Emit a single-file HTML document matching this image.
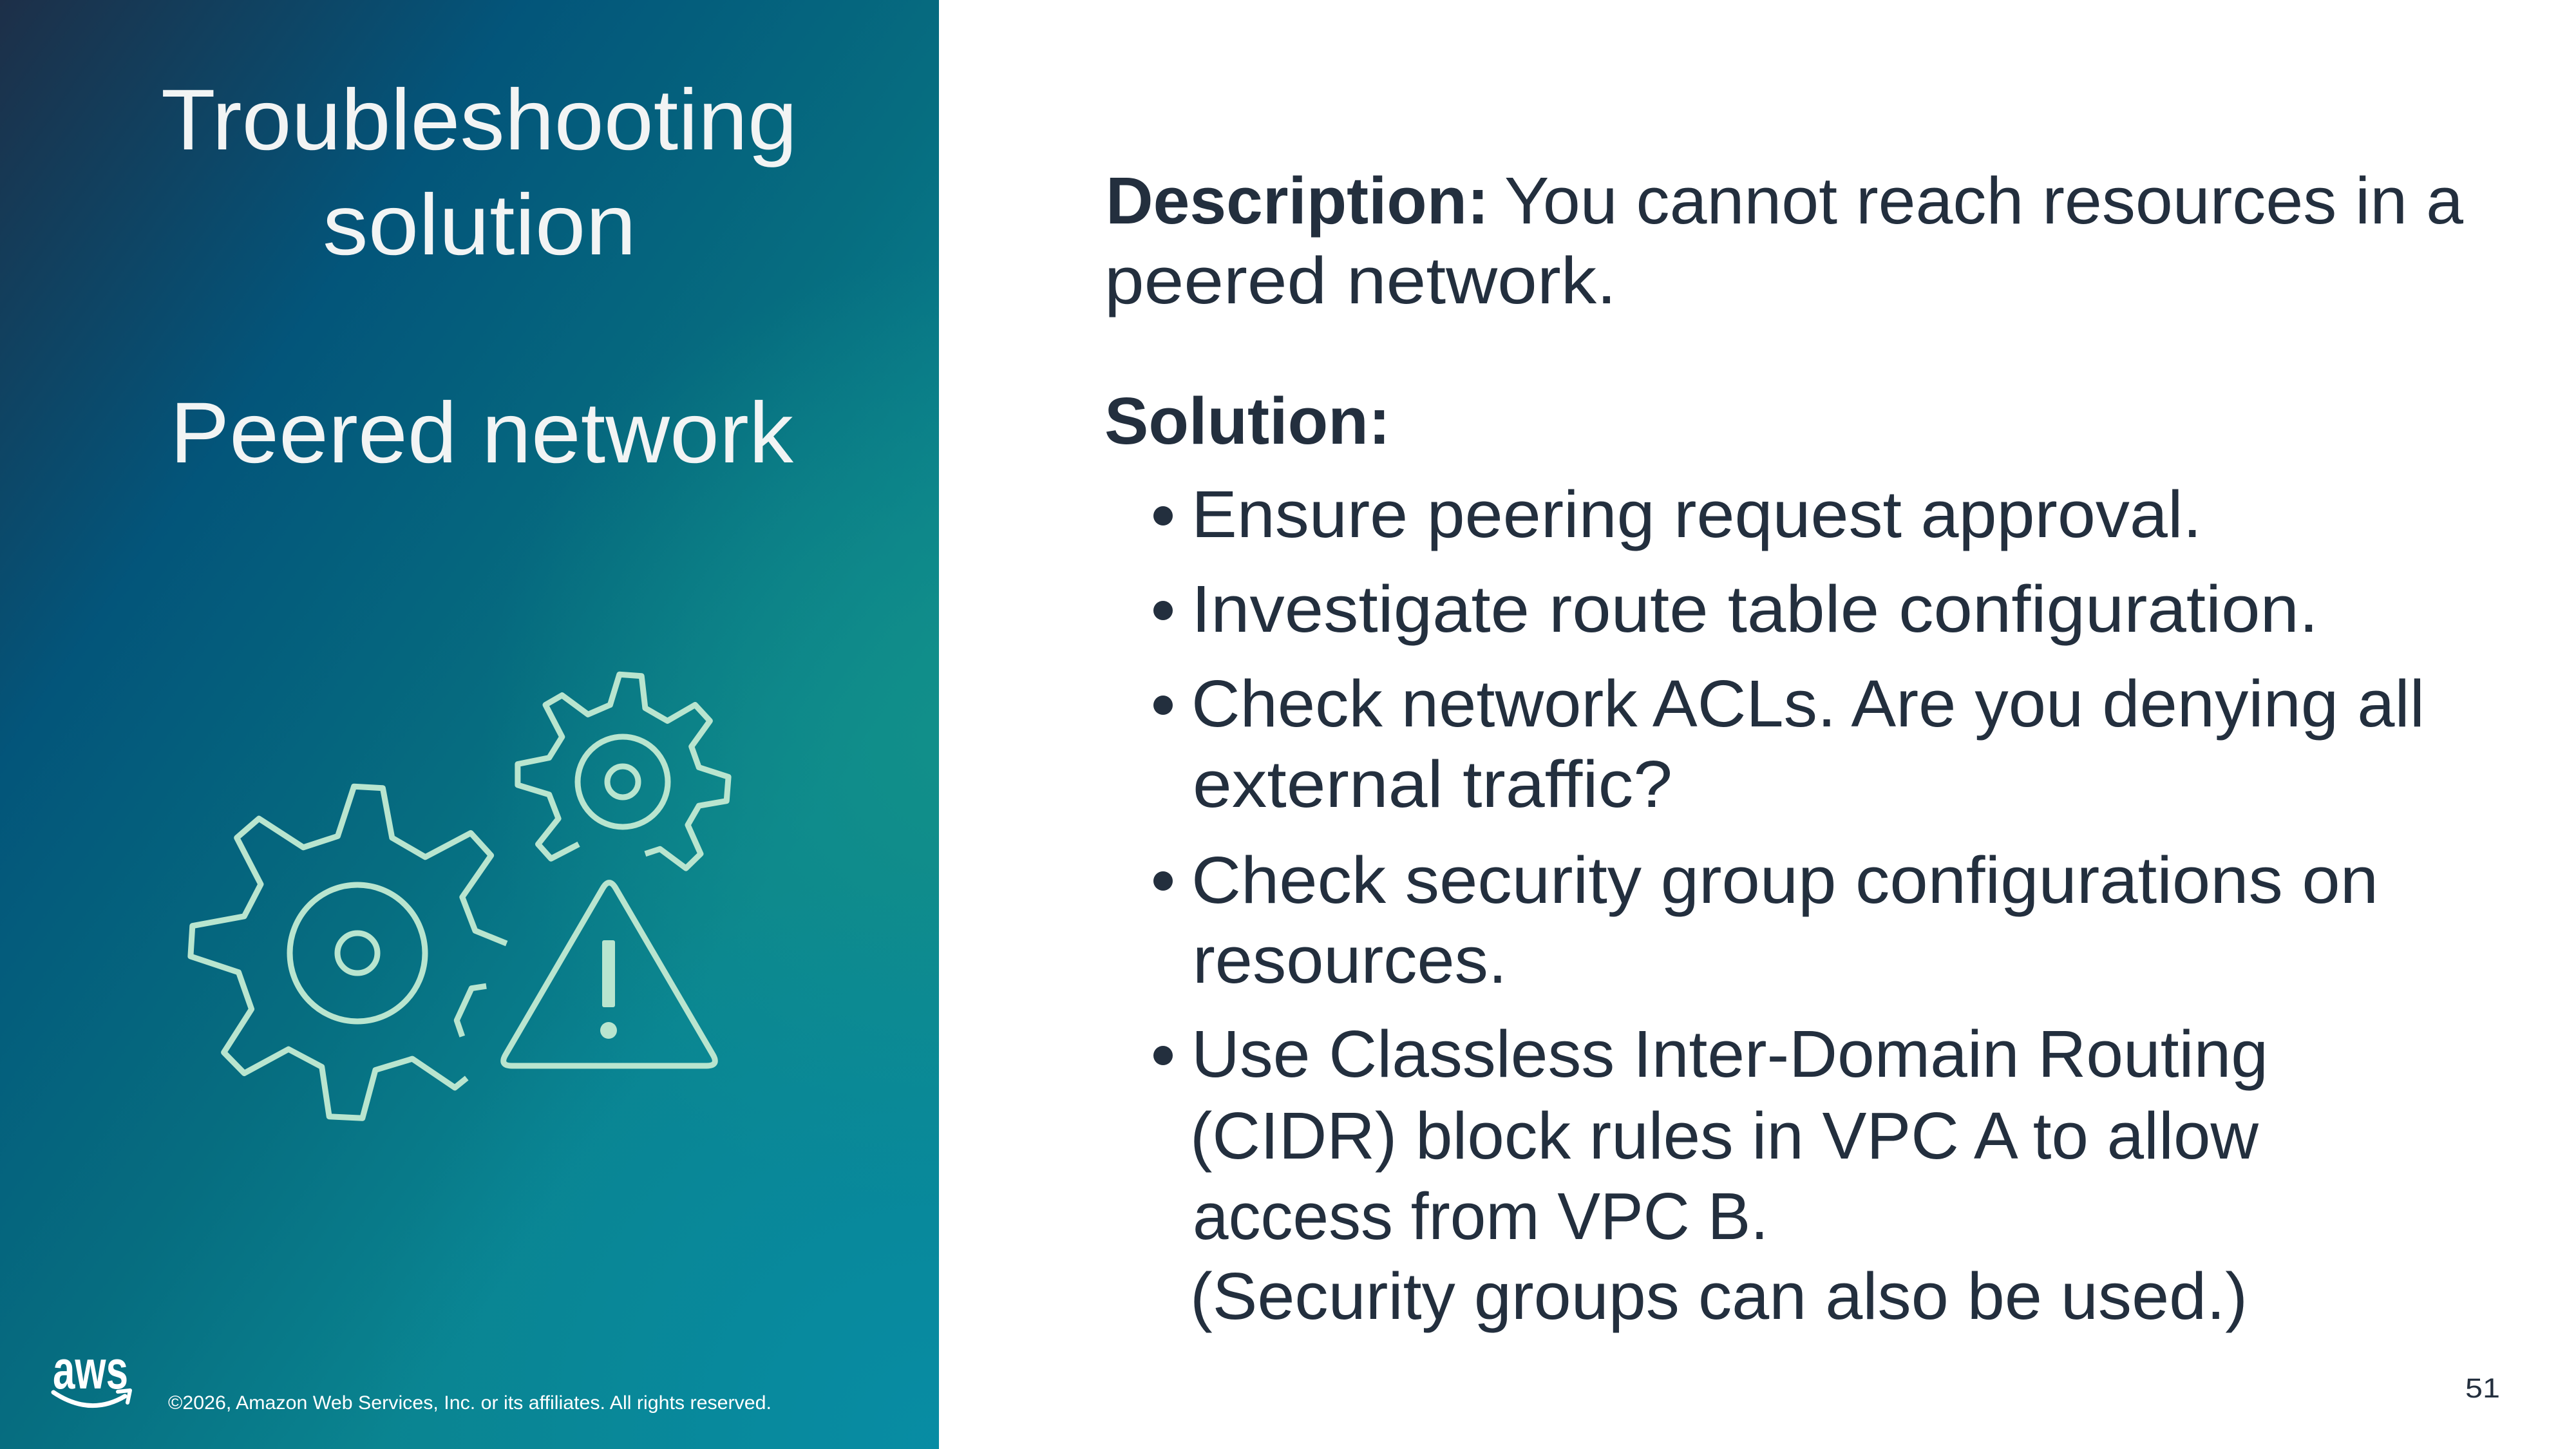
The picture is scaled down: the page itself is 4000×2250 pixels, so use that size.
<!DOCTYPE html>
<html>
<head>
<meta charset="utf-8">
<style>
html,body{margin:0;padding:0;width:4000px;height:2250px;overflow:hidden;background:#ffffff;}
svg{display:block;}
</style>
</head>
<body>
<svg width="4000" height="2250" viewBox="0 0 4000 2250" xmlns="http://www.w3.org/2000/svg">
  <defs>
    <linearGradient id="bg" gradientUnits="userSpaceOnUse" x1="0" y1="0" x2="1458" y2="1000">
      <stop offset="0" stop-color="#1d2f48"/>
      <stop offset="0.38" stop-color="#03557a"/>
      <stop offset="0.72" stop-color="#066d80"/>
      <stop offset="1" stop-color="#0a8490"/>
    </linearGradient>
    <radialGradient id="teal" gradientUnits="userSpaceOnUse" cx="1500" cy="1150" r="750">
      <stop offset="0" stop-color="#139288" stop-opacity="0.85"/>
      <stop offset="1" stop-color="#139288" stop-opacity="0"/>
    </radialGradient>
    <radialGradient id="br" gradientUnits="userSpaceOnUse" cx="1458" cy="2250" r="900">
      <stop offset="0" stop-color="#078da6" stop-opacity="0.9"/>
      <stop offset="1" stop-color="#078da6" stop-opacity="0"/>
    </radialGradient>
  </defs>

  <rect x="0" y="0" width="4000" height="2250" fill="#ffffff"/>
  <rect x="0" y="0" width="1458" height="2250" fill="url(#bg)"/>
  <rect x="0" y="0" width="1458" height="2250" fill="url(#teal)"/>
  <rect x="0" y="0" width="1458" height="2250" fill="url(#br)"/>

  <!-- Title -->
  <g font-family="'Liberation Sans', sans-serif" font-size="134" fill="#f2f4f4">
    <text x="250" y="232" textLength="988" lengthAdjust="spacingAndGlyphs">Troubleshooting</text>
    <text x="501" y="395" textLength="487" lengthAdjust="spacingAndGlyphs">solution</text>
    <text x="264" y="718" textLength="968" lengthAdjust="spacingAndGlyphs">Peered network</text>
  </g>

  <!-- Icon -->
  <g fill="none" stroke="#b9e5cf" stroke-width="9" stroke-linejoin="round" stroke-linecap="butt">
    <!-- big gear -->
    <polyline points="786.7,1465.1 737.9,1445.2 717.8,1393.0 762.6,1328.3 731.0,1293.5 660.4,1330.8 608.8,1300.9 594.4,1223.8 549.6,1221.3 524.4,1298.4 471.0,1315.8 402.1,1271.1 367.7,1300.9 405.0,1373.1 379.2,1422.8 298.8,1437.7 295.9,1485.0 370.5,1509.8 390.6,1567.0 347.6,1634.2 379.2,1666.5 448.0,1629.2 499.7,1656.6 511.2,1733.7 562.8,1736.2 582.9,1661.5 640.3,1644.1 706.3,1688.9 724.7,1674.0"/>
    <polyline points="755.1,1531.2 732.2,1534.7 709.2,1584.4 717.8,1609.3"/>
    <ellipse cx="555" cy="1480" rx="105" ry="106"/>
    <circle cx="555" cy="1480" r="31"/>
    <!-- small gear -->
    <polyline points="898.6,1310.9 855.6,1333.3 835.5,1310.9 867.1,1271.1 852.7,1233.8 803.9,1218.9 803.9,1186.5 852.7,1176.6 872.8,1144.2 847.0,1094.5 872.8,1079.6 913.0,1109.4 947.4,1094.5 961.8,1047.3 996.2,1049.7 1001.9,1099.5 1036.4,1119.4 1079.4,1094.5 1102.4,1119.4 1073.7,1159.2 1085.2,1191.5 1131.1,1206.4 1128.2,1243.7 1085.2,1251.2 1068.0,1281.0 1088.0,1325.8 1065.1,1348.2 1024.9,1318.3 1001.9,1325.8"/>
    <circle cx="967" cy="1214" r="70"/>
    <circle cx="967" cy="1214" r="24"/>
    <!-- warning triangle -->
    <path d="M935.9,1379.3 L785.1,1637.7 Q775,1655 795,1655 L1097,1655 Q1117,1655 1106.9,1637.7 L956.1,1379.3 Q946,1362 935.9,1379.3 Z"/>
  </g>
  <rect x="935" y="1460" width="20" height="104" rx="3" fill="#b9e5cf"/>
  <circle cx="945" cy="1600" r="13" fill="#b9e5cf"/>

  <!-- AWS logo -->
  <text x="82" y="2156" font-family="'Liberation Sans', sans-serif" font-weight="bold" font-size="84" fill="#ffffff" textLength="117" lengthAdjust="spacingAndGlyphs">aws</text>
  <path d="M83,2162 Q140,2200 194,2168" fill="none" stroke="#ffffff" stroke-width="7" stroke-linecap="round"/>
  <polyline points="183,2161 202,2159 198,2178" fill="none" stroke="#ffffff" stroke-width="6" stroke-linejoin="round" stroke-linecap="round"/>

  <!-- Copyright -->
  <text x="261" y="2188" font-family="'Liberation Sans', sans-serif" font-size="30" fill="#ffffff" textLength="937" lengthAdjust="spacingAndGlyphs">©2026, Amazon Web Services, Inc. or its affiliates. All rights reserved.</text>

  <!-- Right content -->
  <g font-family="'Liberation Sans', sans-serif" font-size="103" fill="#232f3e">
    <text x="1717" y="347" font-weight="bold" textLength="595" lengthAdjust="spacingAndGlyphs">Description:</text>
    <text x="2336" y="347" textLength="1489" lengthAdjust="spacingAndGlyphs">You cannot reach resources in a</text>
    <text x="1715" y="471" textLength="795" lengthAdjust="spacingAndGlyphs">peered network.</text>
    <text x="1715" y="689" font-weight="bold" textLength="444" lengthAdjust="spacingAndGlyphs">Solution:</text>

    <text x="1850" y="834" textLength="1569" lengthAdjust="spacingAndGlyphs">Ensure peering request approval.</text>
    <text x="1850" y="981" textLength="1750" lengthAdjust="spacingAndGlyphs">Investigate route table configuration.</text>
    <text x="1850" y="1128" textLength="1915" lengthAdjust="spacingAndGlyphs">Check network ACLs. Are you denying all</text>
    <text x="1852" y="1253" textLength="745" lengthAdjust="spacingAndGlyphs">external traffic?</text>
    <text x="1850" y="1402" textLength="1843" lengthAdjust="spacingAndGlyphs">Check security group configurations on</text>
    <text x="1852" y="1526" textLength="488" lengthAdjust="spacingAndGlyphs">resources.</text>
    <text x="1850" y="1672" textLength="1672" lengthAdjust="spacingAndGlyphs">Use Classless Inter-Domain Routing</text>
    <text x="1848" y="1799" textLength="1659" lengthAdjust="spacingAndGlyphs">(CIDR) block rules in VPC A to allow</text>
    <text x="1852" y="1924" textLength="894" lengthAdjust="spacingAndGlyphs">access from VPC B.</text>
    <text x="1848" y="2048" textLength="1642" lengthAdjust="spacingAndGlyphs">(Security groups can also be used.)</text>
  </g>
  <g fill="#232f3e">
    <circle cx="1806" cy="801" r="15"/>
    <circle cx="1806" cy="948" r="15"/>
    <circle cx="1806" cy="1095" r="15"/>
    <circle cx="1806" cy="1368" r="15"/>
    <circle cx="1806" cy="1639" r="15"/>
  </g>

  <!-- Page number -->
  <text x="3828" y="2170" font-family="'Liberation Sans', sans-serif" font-size="43" fill="#232f3e" textLength="54" lengthAdjust="spacingAndGlyphs">51</text>
</svg>
</body>
</html>
